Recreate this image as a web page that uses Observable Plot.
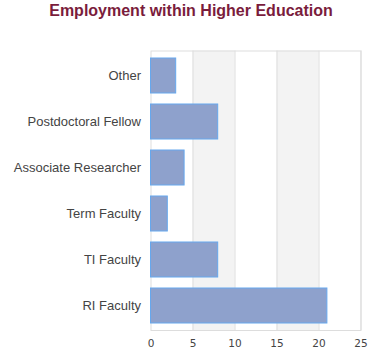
<!DOCTYPE html>
<html>
<head>
<meta charset="utf-8">
<script src="https://cdn.jsdelivr.net/npm/d3@7"></script>
<script src="https://cdn.jsdelivr.net/npm/@observablehq/plot@0.6"></script>
<style>
  html, body { margin: 0; padding: 0; background: #fff; }
  #title { box-sizing: border-box; font-family: "Liberation Sans", Arial, sans-serif; font-weight: bold; font-size: 16px; line-height: 16px; color: #7A1C3C; text-align: center; height: 30px; padding-top: 3px; padding-left: 2px; margin: 0; }
  #chart svg { display: block; }
</style>
</head>
<body>
<div id="title">Employment within Higher Education</div>
<div id="chart"></div>
<script>
const categories = ["Other", "Postdoctoral Fellow", "Associate Researcher", "Term Faculty", "TI Faculty", "RI Faculty"];
const values = [3, 8, 4, 2, 8, 21];
const xTicks = [0, 5, 10, 15, 20, 25];
const bandStarts = [5, 15];
const bandEnds = [10, 20];

const data = categories.map((c, i) => ({category: c, value: values[i]}));
const bands = bandStarts.map((s, i) => ({x1: s, x2: bandEnds[i]}));

const chart = Plot.plot({
  width: 380,
  height: 330,
  marginTop: 20.5,
  marginBottom: 30,
  marginLeft: 150.5,
  marginRight: 19.5,
  style: {background: "#fff"},
  x: {domain: [0, 25], ticks: xTicks, label: null},
  y: {domain: categories, label: null, paddingInner: 0.236, paddingOuter: 0.118},
  marks: [
    Plot.rectX(bands, {x1: "x1", x2: "x2", fill: "#F3F3F3"}),
    Plot.ruleX(xTicks.slice(1), {stroke: "#DDDDDD", strokeWidth: 1}),
    Plot.frame({stroke: "#DDDDDD", strokeWidth: 1}),
    Plot.barX(data, {x: "value", y: "category", fill: "#8EA1CC", stroke: "#66A8EE", strokeWidth: 1}),
    Plot.axisX({ticks: xTicks, tickSize: 0, tickPadding: 9, fontFamily: "DejaVu Sans", fontSize: 10.5, fill: "#444", label: null}),
    Plot.axisY({tickSize: 0, tickPadding: 10, fontFamily: "Liberation Sans", fontSize: 13, fill: "#444", label: null})
  ]
});
document.getElementById("chart").appendChild(chart);
</script>
</body>
</html>
